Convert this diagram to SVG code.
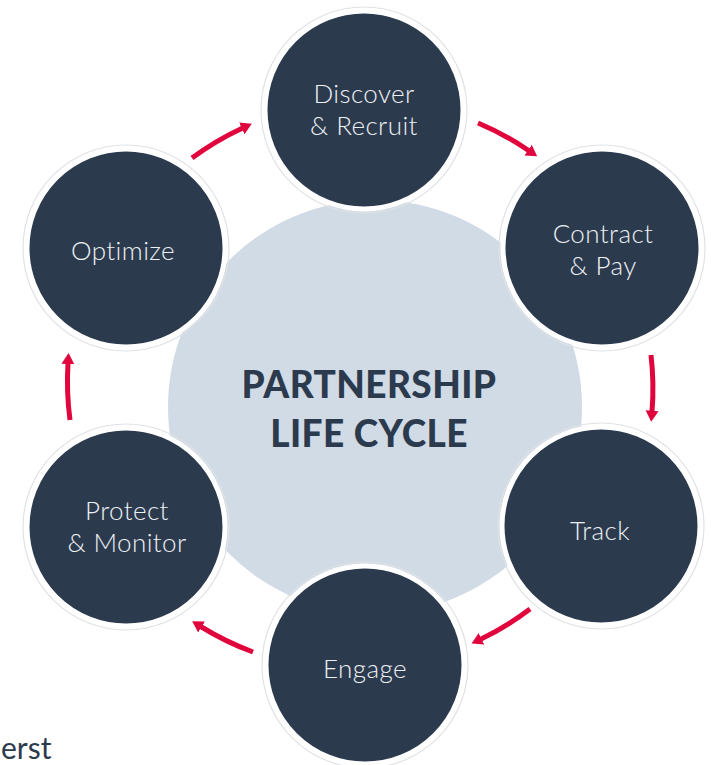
<svg xmlns="http://www.w3.org/2000/svg" width="711" height="765" viewBox="0 0 711 765">
<defs>
<style>
.node circle.bg{fill:#2c3a4e;stroke:#ffffff;stroke-width:5}
.node circle.rim{fill:none;stroke:#dfe2e5;stroke-width:1.2}
.lbl{font-family:Lato,"Noto Sans",sans-serif;font-weight:300;font-size:26px;fill:#eef1f4;text-anchor:middle;letter-spacing:0.4px}
.title{font-family:Lato,"Noto Sans",sans-serif;font-weight:900;font-size:37px;fill:#2c3a4e;text-anchor:middle;letter-spacing:0.4px}
.arr{fill:none;stroke:#e0063d;stroke-width:5;marker-end:url(#ah)}
</style>
<marker id="ah" markerUnits="userSpaceOnUse" markerWidth="14" markerHeight="14" refX="1" refY="7" orient="auto">
<path d="M0,0.5 L11,7 L0,13.5 z" fill="#e0063d"/>
</marker>
</defs>
<rect width="711" height="765" fill="#ffffff"/>
<g id="center">
<circle cx="375" cy="407" r="207" fill="#d1dbe5"/>
<text class="title" x="369" y="398">PARTNERSHIP</text>
<text class="title" x="369" y="447">LIFE CYCLE</text>
</g>
<g id="connectors">
<path class="arr" d="M478,123 A289,289 0 0 1 528.9,150.7"/>
<path class="arr" d="M651,355 A289,289 0 0 1 652,411.7"/>
<path class="arr" d="M530,609 A277,277 0 0 1 480.6,639.2"/>
<path class="arr" d="M253,652 A289,289 0 0 1 200.7,626.5"/>
<path class="arr" d="M70,420 A297,297 0 0 1 68,363.1"/>
<path class="arr" d="M192,158 A287,287 0 0 1 242.7,127.9"/>
</g>
<g id="discover" class="node">
<circle class="rim" cx="364" cy="110" r="103"/>
<circle class="bg" cx="364" cy="110" r="99"/>
<text class="lbl" x="364" y="103">Discover</text>
<text class="lbl" x="364" y="135">&amp; Recruit</text>
</g>
<g id="contract" class="node">
<circle class="rim" cx="602" cy="248" r="103"/>
<circle class="bg" cx="602" cy="248" r="99"/>
<text class="lbl" x="603" y="243">Contract</text>
<text class="lbl" x="603" y="275">&amp; Pay</text>
</g>
<g id="track" class="node">
<circle class="rim" cx="601" cy="526" r="103"/>
<circle class="bg" cx="601" cy="526" r="99"/>
<text class="lbl" x="600" y="540">Track</text>
</g>
<g id="engage" class="node">
<circle class="rim" cx="365" cy="665" r="103"/>
<circle class="bg" cx="365" cy="665" r="99"/>
<text class="lbl" x="365" y="678">Engage</text>
</g>
<g id="protect" class="node">
<circle class="rim" cx="126" cy="527" r="103"/>
<circle class="bg" cx="126" cy="527" r="99"/>
<text class="lbl" x="127" y="520">Protect</text>
<text class="lbl" x="127" y="552">&amp; Monitor</text>
</g>
<g id="optimize" class="node">
<circle class="rim" cx="126" cy="248" r="103"/>
<circle class="bg" cx="126" cy="248" r="99"/>
<text class="lbl" x="123" y="260">Optimize</text>
</g>
<text x="1" y="759" font-family="Lato,'Noto Sans',sans-serif" font-size="30" fill="#2c3a4e">erst</text>
</svg>
